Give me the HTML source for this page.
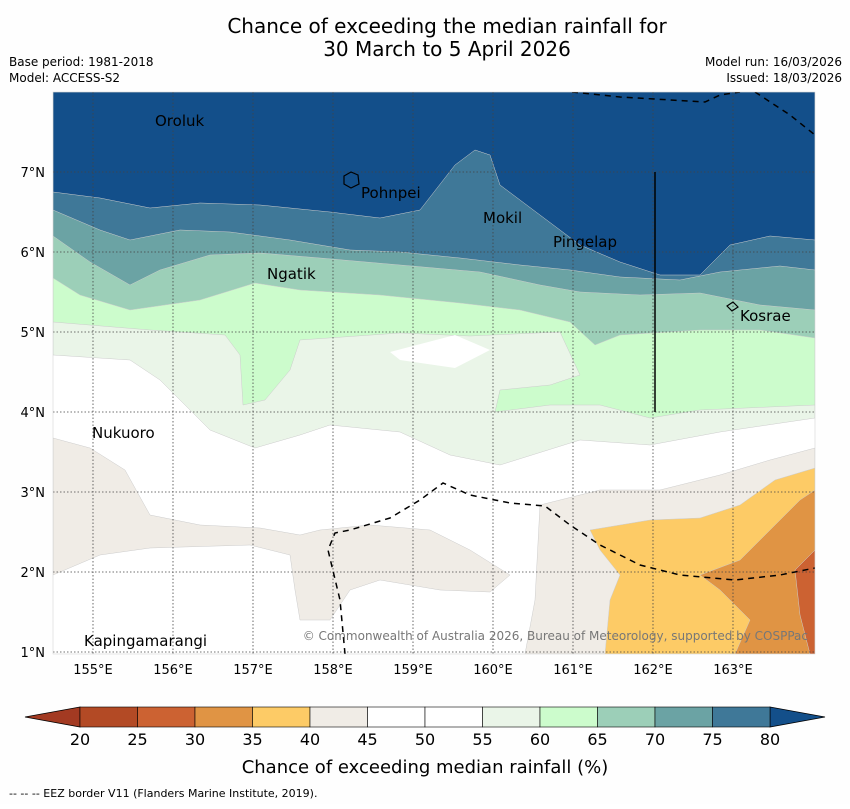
<!DOCTYPE html>
<html><head><meta charset="utf-8"><style>
body{margin:0;background:#fff;width:850px;height:804px;overflow:hidden;font-family:"Liberation Sans","DejaVu Sans",sans-serif}
svg text{font-family:"DejaVu Sans","Liberation Sans",sans-serif}
</style></head><body>
<svg id="chart" width="850" height="804" viewBox="0 0 850 804" xmlns="http://www.w3.org/2000/svg">
<rect width="850" height="804" fill="#fefefe"/>
<text x="447" y="33" font-size="20" text-anchor="middle">Chance of exceeding the median rainfall for</text>
<text x="447" y="56" font-size="20" text-anchor="middle">30 March to 5 April 2026</text>
<text x="9" y="66" font-size="12">Base period: 1981-2018</text>
<text x="9" y="82" font-size="12">Model: ACCESS-S2</text>
<text x="842" y="66" font-size="12" text-anchor="end">Model run: 16/03/2026</text>
<text x="842" y="82" font-size="12" text-anchor="end">Issued: 18/03/2026</text>
<defs><clipPath id="mc"><rect x="53" y="92" width="762" height="562"/></clipPath></defs>
<g id="map" clip-path="url(#mc)">
<rect x="53" y="92" width="762" height="562" fill="#ffffff"/>
<g id="bands"></g>
<g id="grid"></g>
<polyline points="345,654 340,600 328,550 335,533 350,530 390,518 420,500 443,483 470,495 510,503 545,506 570,525 600,545 640,565 680,575 735,580 780,575 815,568" fill="none" stroke="#000" stroke-width="1.5" stroke-dasharray="6,5"/>
<polyline points="572,92 620,97 705,102 720,95 740,92" fill="none" stroke="#000" stroke-width="1.5" stroke-dasharray="6,5"/>
<polyline points="755,92 790,115 815,135" fill="none" stroke="#000" stroke-width="1.5" stroke-dasharray="6,5"/>
<line x1="655" y1="172" x2="655" y2="412" stroke="#000" stroke-width="1.5"/>
<path d="M344,176 L351,172 L358,175 L359,184 L351,188 L344,184 Z" fill="none" stroke="#000" stroke-width="1.2"/>
<path d="M727,306 L733,302 L738,307 L732,311 Z" fill="none" stroke="#000" stroke-width="1.2"/>
<text x="155" y="126" font-size="15">Oroluk</text>
<text x="361" y="198" font-size="15">Pohnpei</text>
<text x="483" y="223" font-size="15">Mokil</text>
<text x="553" y="247" font-size="15">Pingelap</text>
<text x="267" y="279" font-size="15">Ngatik</text>
<text x="740" y="321" font-size="15">Kosrae</text>
<text x="92" y="438" font-size="15">Nukuoro</text>
<text x="84" y="646" font-size="15">Kapingamarangi</text>
<text x="808" y="640" font-size="12" fill="#777" text-anchor="end">© Commonwealth of Australia 2026, Bureau of Meteorology, supported by COSPPac</text>
</g>
<rect x="53" y="92" width="762" height="562" fill="none" stroke="#ccc" stroke-width="0.5"/>
<g id="ticks"></g>
<g id="colorbar"></g>
<text x="425" y="773" font-size="18" text-anchor="middle">Chance of exceeding median rainfall (%)</text>
<text x="9" y="797" font-size="11">--  --  -- EEZ border V11 (Flanders Marine Institute, 2019).</text>
</svg>
<script>
const lonTicks=[155,156,157,158,159,160,161,162,163];
const latTicks=[1,2,3,4,5,6,7];
const levels=[20,25,30,35,40,45,50,55,60,65,70,75,80];
const levelColors=["#b34a25","#cc6232","#e09444","#fdcb66","#f0ece6","#ffffff","#ffffff","#eaf5e8","#ccfccc","#9ccfb8","#6ba3a4","#3f7898"];
const lowColor="#a33a22", highColor="#134f8a";
const NS="http://www.w3.org/2000/svg";
const xLon=l=>93+(l-155)*80, yLat=l=>652-(l-1)*80;
function mk(tag,attrs,parent){const e=document.createElementNS(NS,tag);for(const k in attrs)e.setAttribute(k,attrs[k]);parent.appendChild(e);return e;}
const bands=document.getElementById('bands');
const top_=(pts)=>"53,92 "+pts+" 815,92";
const regions=[
 ["band-55-60","#eaf5e8",top_("53,355 130,360 160,380 210,430 255,448 300,435 330,425 400,432 450,455 500,465 580,440 650,445 720,432 815,418 815,418")],
 ["band-60-65","#ccfccc",top_("53,322 150,330 225,335 240,355 243,405 265,400 290,370 300,340 400,333 470,336 560,332 580,375 550,385 500,390 495,412 550,405 600,405 650,418 700,410 815,405")],
 ["island-white","#ffffff","390,352 455,335 490,350 455,368 400,360"],
 ["band-65-70","#9ccfb8",top_("53,278 80,295 130,310 200,300 255,283 300,290 380,295 460,303 520,310 570,322 595,345 620,335 700,330 760,330 815,338")],
 ["band-70-75","#6ba3a4",top_("53,236 90,262 130,285 160,270 210,255 260,253 320,258 400,265 480,272 540,285 580,292 640,295 700,293 760,305 815,310")],
 ["band-75-80","#3f7898",top_("53,210 100,230 130,240 180,230 230,232 290,240 350,250 400,252 460,258 520,265 570,270 620,277 680,280 720,272 780,266 815,270")],
 ["band-above-80","#134f8a",top_("53,192 100,198 150,208 200,203 260,205 330,212 380,218 420,210 455,165 475,150 490,155 500,185 540,215 580,245 620,262 660,275 700,275 730,245 770,236 815,240")],
 ["band-40-45-west","#f0ece6","53,438 90,448 125,470 150,515 200,525 260,528 300,535 320,530 370,525 430,530 470,550 510,575 490,592 440,590 380,580 350,590 330,620 300,620 295,590 290,555 250,545 150,548 100,555 53,575"],
 ["band-40-45-east","#f0ece6","540,505 600,490 660,490 720,475 770,460 815,448 815,654 525,654 535,600"],
 ["band-35-40","#fdcb66","590,530 650,520 700,518 740,505 775,480 815,468 815,654 605,654 610,600 620,575 600,550"],
 ["band-30-35","#e09444","700,575 740,560 780,520 800,500 815,490 815,654 735,654 750,620 720,590"],
 ["band-25-30","#cc6232","795,570 815,550 815,654 810,654 800,615"]
];
regions.forEach(r=>{const p=mk('polygon',{points:r[2],fill:r[1],stroke:r[1]==="#ffffff"?"none":"#ccc","stroke-width":0.5},bands);

});
const grid=document.getElementById('grid'),ticks=document.getElementById('ticks');
lonTicks.forEach(l=>{const g=mk('line',{x1:xLon(l),x2:xLon(l),y1:92,y2:654,stroke:"#444","stroke-width":0.8,"stroke-dasharray":"1.5,2"},grid);


const t=mk('text',{x:xLon(l),y:674,"font-size":13,"text-anchor":"middle"},ticks);t.textContent=l+"°E";

});
latTicks.forEach(l=>{const g=mk('line',{x1:53,x2:815,y1:yLat(l),y2:yLat(l),stroke:"#444","stroke-width":0.8,"stroke-dasharray":"1.5,2"},grid);


const t=mk('text',{x:45,y:yLat(l)+5,"font-size":13,"text-anchor":"end"},ticks);t.textContent=l+"°N";

});
const cb=document.getElementById('colorbar');
const cx=v=>80+(v-20)*(690/60);
const lo=mk('polygon',{points:`80,707 25,717 80,727`,fill:lowColor,stroke:"#000","stroke-width":0.8},cb);


const hi=mk('polygon',{points:`770,707 825,717 770,727`,fill:highColor,stroke:"#000","stroke-width":0.8},cb);


levelColors.forEach((c,i)=>{const r=mk('rect',{x:cx(levels[i]),y:707,width:cx(levels[i+1])-cx(levels[i]),height:20,fill:c,stroke:"#000","stroke-width":0.6},cb);

});
levels.forEach(v=>{const t=mk('text',{x:cx(v),y:745,"font-size":16,"text-anchor":"middle"},cb);t.textContent=v;

});
</script>
</body></html>
